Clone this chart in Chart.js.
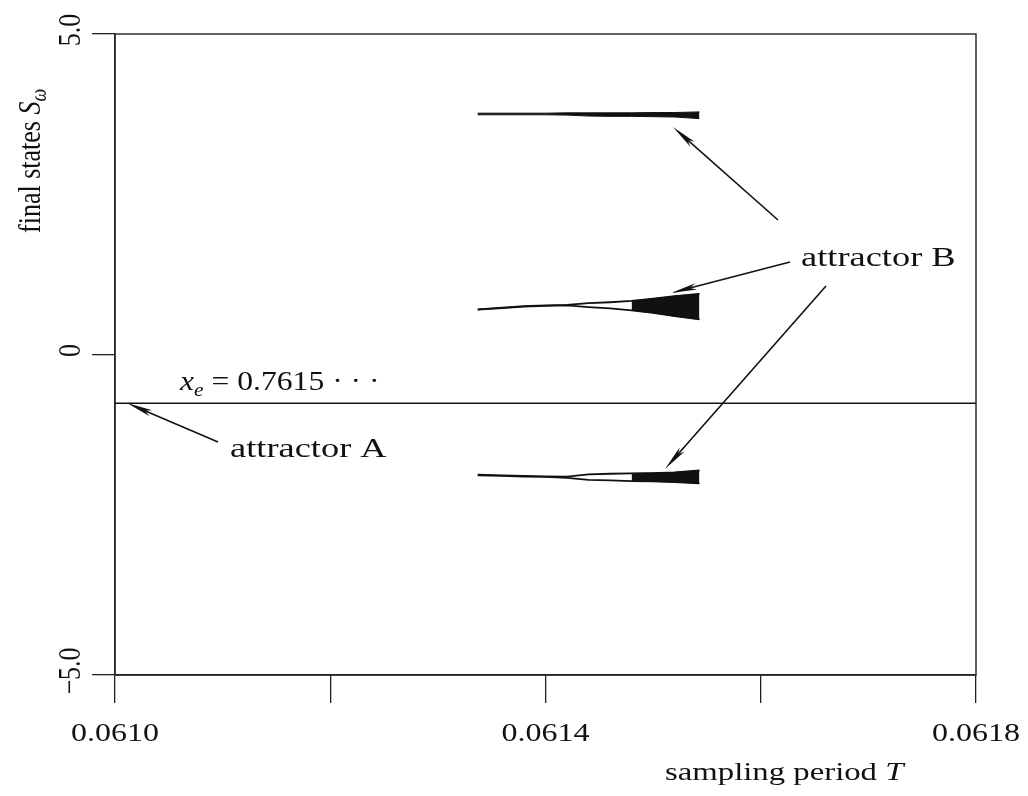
<!DOCTYPE html>
<html>
<head>
<meta charset="utf-8">
<script src="https://cdn.jsdelivr.net/npm/chart.js@4.4.1/dist/chart.umd.min.js"></script>
<style>
html,body{margin:0;padding:0;background:#fff;}
canvas{display:block;}
</style>
</head>
<body>
<canvas id="c" width="1028" height="796"></canvas>
<script>
// ---- data ----
const xTicks = [0.0610, 0.0612, 0.0614, 0.0616, 0.0618];
const xTickLabels = ['0.0610', '', '0.0614', '', '0.0618'];
const yTicks = [-5, 0, 5];
const yTickLabels = ['\u22125.0', '0', '5.0'];

// attractor A: fixed point x_e (drawn as -0.7615)
const periodA = [0.0610, 0.0618];
const statesA = [-0.7615, -0.7615];

// attractor B: three bands, upper / lower envelopes over T
const periodB   = [0.061337, 0.06136, 0.06138, 0.06140, 0.06142, 0.06144, 0.06146, 0.06148, 0.06150, 0.06152, 0.061543];
const bTopUpper = [3.765, 3.765, 3.765, 3.765, 3.770, 3.770, 3.770, 3.770, 3.775, 3.775, 3.785];
const bTopLower = [3.740, 3.740, 3.740, 3.740, 3.735, 3.720, 3.715, 3.715, 3.710, 3.705, 3.680];
const bMidUpper = [0.705, 0.730, 0.755, 0.765, 0.775, 0.800, 0.815, 0.835, 0.870, 0.910, 0.945];
const bMidLower = [0.700, 0.725, 0.748, 0.758, 0.765, 0.740, 0.720, 0.690, 0.650, 0.600, 0.550];
const bBotUpper = [-1.875, -1.885, -1.895, -1.900, -1.905, -1.870, -1.860, -1.855, -1.850, -1.840, -1.810];
const bBotLower = [-1.885, -1.895, -1.905, -1.910, -1.925, -1.955, -1.965, -1.975, -1.980, -1.990, -2.010];
const chaosFrom = 0.06148; // band becomes a filled (chaotic) region from here

// ---- helpers ----
const pts = (xs, ys) => xs.map((x, i) => ({x: x, y: ys[i]}));
const ptsFrom = (xs, ys, x0) => pts(xs, ys).filter(p => p.x >= x0 - 1e-9);
const INK = '#111';
const SERIF = '"Liberation Serif", "DejaVu Serif", serif';

function lineDs(data, w) {
  return {data: data, borderColor: INK, borderWidth: w, pointRadius: 0, fill: false, tension: 0};
}
function fillDs(data) {
  return {data: data, borderColor: INK, borderWidth: 1, pointRadius: 0, fill: '-1', backgroundColor: INK, tension: 0};
}

const datasets = [
  lineDs(pts(periodA, statesA), 1.6),
  lineDs(pts(periodB, bTopUpper), 1),
  fillDs(pts(periodB, bTopLower)),
  lineDs(pts(periodB, bMidUpper), 1.8),
  lineDs(pts(periodB, bMidLower), 1.8),
  lineDs(ptsFrom(periodB, bMidUpper, chaosFrom), 1),
  fillDs(ptsFrom(periodB, bMidLower, chaosFrom)),
  lineDs(pts(periodB, bBotUpper), 1.8),
  lineDs(pts(periodB, bBotLower), 1.8),
  lineDs(ptsFrom(periodB, bBotUpper, chaosFrom), 1),
  fillDs(ptsFrom(periodB, bBotLower, chaosFrom))
];

// draw a run of text segments [text, font, dy] along the local x axis, stretched by hs
function runs(ctx, segs, x, y, hs) {
  let cx = x;
  for (const s of segs) {
    ctx.save();
    ctx.font = s[1];
    ctx.translate(cx, y + (s[2] || 0));
    ctx.scale(hs, 1);
    ctx.textAlign = 'left';
    ctx.textBaseline = 'alphabetic';
    ctx.fillText(s[0], 0, 0);
    const w = ctx.measureText(s[0]).width * hs;
    ctx.restore();
    cx += w;
  }
  return cx - x;
}
function measureRuns(ctx, segs, hs) {
  let w = 0;
  for (const s of segs) { ctx.save(); ctx.font = s[1]; w += ctx.measureText(s[0]).width * hs; ctx.restore(); }
  return w;
}
function arrow(ctx, x1, y1, x2, y2) {
  const a = Math.atan2(y2 - y1, x2 - x1);
  const L = 26, H = 3.2;
  ctx.save();
  ctx.strokeStyle = INK; ctx.fillStyle = INK; ctx.lineWidth = 1.6;
  ctx.beginPath(); ctx.moveTo(x1, y1); ctx.lineTo(x2 - Math.cos(a) * L * 0.6, y2 - Math.sin(a) * L * 0.6); ctx.stroke();
  ctx.beginPath();
  ctx.moveTo(x2, y2);
  ctx.lineTo(x2 - Math.cos(a) * L - Math.sin(a) * H, y2 - Math.sin(a) * L + Math.cos(a) * H);
  ctx.lineTo(x2 - Math.cos(a) * L * 0.75, y2 - Math.sin(a) * L * 0.75);
  ctx.lineTo(x2 - Math.cos(a) * L + Math.sin(a) * H, y2 - Math.sin(a) * L - Math.cos(a) * H);
  ctx.closePath(); ctx.fill();
  ctx.restore();
}

const decor = {
  id: 'decor',
  afterDraw(chart) {
    const ctx = chart.ctx, ca = chart.chartArea;
    const xs = chart.scales.x, ys = chart.scales.y;
    ctx.save();
    // frame
    ctx.strokeStyle = '#222'; ctx.lineWidth = 1.4;
    ctx.strokeRect(ca.left, ca.top, ca.right - ca.left, ca.bottom - ca.top);
    ctx.fillStyle = INK;

    // x tick labels
    const tf = '26px ' + SERIF;
    xTicks.forEach((v, i) => {
      if (!xTickLabels[i]) return;
      const seg = [[xTickLabels[i], tf, 0]];
      const w = measureRuns(ctx, seg, 1.23);
      runs(ctx, seg, xs.getPixelForValue(v) - w / 2, 741, 1.23);
    });
    // y tick labels (rotated, reading upwards)
    yTicks.forEach((v, i) => {
      ctx.save();
      ctx.translate(80, ys.getPixelForValue(v) - 4);
      ctx.rotate(-Math.PI / 2);
      ctx.scale(1, 1.23);
      ctx.font = tf; ctx.textAlign = 'center'; ctx.textBaseline = 'alphabetic';
      ctx.fillText(yTickLabels[i], 0, 0);
      ctx.restore();
    });

    // y axis title (rotated)
    ctx.save();
    ctx.translate(40, 233);
    ctx.rotate(-Math.PI / 2);
    ctx.scale(1, 1.23);
    ctx.textAlign = 'left'; ctx.textBaseline = 'alphabetic';
    ctx.font = '26px ' + SERIF;
    ctx.fillText('final states ', 0, 0);
    let w1 = ctx.measureText('final states ').width;
    ctx.font = 'italic 26px ' + SERIF;
    ctx.fillText('S', w1, 0);
    w1 += ctx.measureText('S').width;
    ctx.font = 'italic 18px ' + SERIF;
    ctx.fillText('\u03c9', w1, 5);
    ctx.restore();

    // x axis title
    runs(ctx, [['sampling period ', '26px ' + SERIF, 0], ['T', 'italic 26px ' + SERIF, 0]], 665, 780, 1.26);

    // x_e label
    runs(ctx, [
      ['x', 'italic 28px ' + SERIF, 0],
      ['e', 'italic 19px ' + SERIF, 6],
      [' = 0.7615 \u00b7 \u00b7 \u00b7', '28px ' + SERIF, 0]
    ], 180, 390, 1.13);

    // attractor labels
    runs(ctx, [['attractor A', '28px ' + SERIF, 0]], 230, 457, 1.3);
    runs(ctx, [['attractor B', '28px ' + SERIF, 0]], 801, 266, 1.3);

    // arrows
    arrow(ctx, 218, 442, 127, 403);
    arrow(ctx, 778, 220, 673, 127);
    arrow(ctx, 790, 262, 671, 293);
    arrow(ctx, 826, 286, 665, 469);
    ctx.restore();
  }
};

new Chart(document.getElementById('c'), {
  type: 'line',
  data: {datasets: datasets},
  options: {
    responsive: false,
    animation: false,
    events: [],
    layout: {padding: {left: 92, right: 52, top: 34, bottom: 93}},
    plugins: {legend: {display: false}, tooltip: {enabled: false}},
    scales: {
      x: {
        type: 'linear', min: 0.0610, max: 0.0618,
        afterBuildTicks: s => { s.ticks = xTicks.map(v => ({value: v})); },
        ticks: {display: false},
        grid: {drawOnChartArea: false, drawTicks: true, tickLength: 28, color: '#222', lineWidth: 1.3},
        border: {display: true, color: '#222', width: 1.4}
      },
      y: {
        type: 'linear', min: -5, max: 5,
        afterBuildTicks: s => { s.ticks = yTicks.map(v => ({value: v})); },
        ticks: {display: false},
        grid: {drawOnChartArea: false, drawTicks: true, tickLength: 23, color: '#222', lineWidth: 1.3},
        border: {display: true, color: '#222', width: 1.4}
      }
    }
  },
  plugins: [decor]
});
</script>
</body>
</html>
